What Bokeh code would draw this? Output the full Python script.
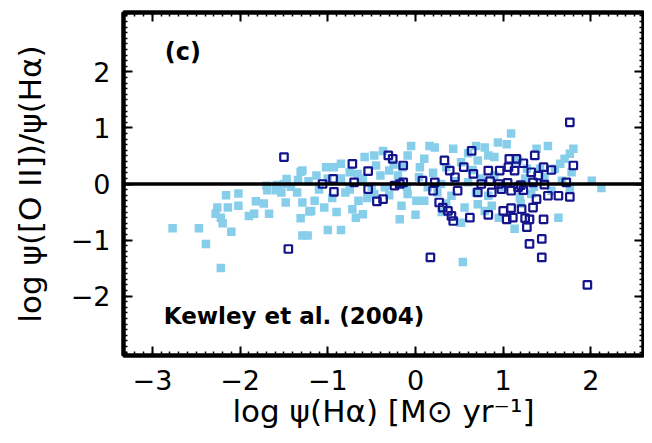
from bokeh.plotting import figure
from bokeh.models import LinearAxis, FixedTicker, Span, Range1d
from bokeh.core.properties import value
from bokeh.embed import file_html
from bokeh.resources import INLINE
import numpy as np

# ---- data ----
light_x = [-2.77, -2.47, -2.39, -2.22, -2.16, -2.02, -2.02, -2.26, -2.14, -2.28, -2.22, -2.20, -2.10,
           -1.82, -1.73, -1.90, -1.84, -1.67, -1.69, -1.59, -1.53, -1.48, -1.47, -1.31, -1.34, -1.29,
           -1.31, -1.21, -1.29, -1.23, -1.70, -1.58, -1.42, -1.22, -1.50, -1.35,
           -1.29, -1.19, -1.00, -0.85, -1.02, -1.13, -0.93, -0.85, -1.04, -0.72, -0.68, -0.60, -0.58,
           -0.47, -0.45, -0.37, -0.05, -0.09, -0.18, -0.16, 0.01, 0.04, -0.75, -0.66, -0.47, -0.35,
           -0.09, -0.30, -1.10, -0.95, -0.85, -0.80, -0.60, -0.50, -0.40, -0.30, -0.20, -0.10, -0.65,
           -0.25, -1.00, -0.75, -1.15, -0.90, -0.55, -0.15,
           1.09, 0.16, 0.22, 0.43, 0.69, 0.79, 0.94, 1.04, 0.10, 0.52, 0.71, 0.83, 0.90, 0.14, 0.10,
           0.41, 0.56, 0.69, 0.83, 0.87, 0.71, 0.52, 0.79, 1.13, 0.54, 0.29, 0.60,
           0.20, 0.35, 0.45, 0.65, 0.75, 0.90, 1.00, 1.25, 1.35, 0.25, 0.05, 0.30, 0.00, 0.95, 1.20,
           0.60, 0.35,
           1.38, 1.51, 1.80, 1.76, 1.70, 1.65, 1.59, 1.78, 2.01, 2.12, 1.63, 1.17, 1.27, 1.42, 1.47,
           1.67, 1.76, 1.19, 1.32, 1.55]
light_y = [-0.79, -0.79, -1.07, -1.50, -0.20, -0.17, -0.39, -0.42, -0.42, -0.53, -0.60, -0.70, -0.85,
           -0.31, -0.35, -0.57, -0.53, -0.53, -0.11, -0.11, -0.15, -0.33, 0.09, 0.22, 0.07, -0.33,
           -0.61, -0.49, -0.92, -0.92, -0.03, -0.02, -0.05, 0.05, 0.00, -0.15,
           0.24, -0.48, -0.82, -0.82, 0.30, 0.15, 0.30, 0.36, -0.42, -0.45, -0.60, -0.54, 0.48,
           0.51, 0.33, 0.59, 0.68, 0.51, -0.63, -0.39, -0.30, 0.12, 0.21, 0.18, -0.18, -0.06,
           -0.18, 0.24, -0.10, -0.25, 0.10, -0.15, 0.10, -0.05, 0.15, -0.20, 0.15, -0.05, -0.30,
           0.35, 0.10, -0.10, -0.30, -0.50, -0.25, 0.30,
           0.90, 0.68, 0.65, 0.63, 0.68, 0.65, 0.74, 0.71, 0.45, 0.39, 0.42, 0.51, 0.48, -0.06, -0.30,
           -0.21, -0.42, -0.15, -0.21, -0.39, -0.36, -0.69, -0.48, -0.80, -1.39, 0.00, 0.03,
           0.20, 0.30, 0.05, 0.25, 0.10, 0.15, -0.05, 0.10, -0.05, -0.15, 0.30, -0.50, -0.55, -0.60, -0.35,
           0.55, -0.35,
           0.63, 0.68, 0.63, 0.54, 0.45, 0.36, 0.27, 0.21, 0.06, -0.07, -0.60, 0.42, 0.27, 0.27, 0.12,
           0.06, -0.09, -0.24, -0.18, -0.12]

dark_x = [-1.50, -1.45, -0.72, -0.94, -1.06, -0.93, -0.70, -0.54, -0.54, -0.44, -0.37, -0.31, -0.26,
          -0.14, -0.24, -0.18, -0.14, 0.08, 0.17,
          0.64, 0.33, 0.39, 0.45, 0.66, 0.83, 0.96, 1.07, 1.15, 1.06, 1.13, 0.22, 0.20, 0.48, 0.71,
          0.87, 0.98, 1.09, 1.17, 0.27, 0.31, 0.37, 0.41, 0.43, 0.62, 0.83, 1.00, 1.09, 1.04, 1.11,
          1.76, 1.23, 1.36, 1.46, 1.55, 1.80, 1.32, 1.40, 1.34, 1.47, 1.72, 1.23, 1.38, 1.51, 1.63,
          1.76, 1.21, 1.34, 1.25, 1.30, 1.46, 1.27, 1.44, 1.30, 1.44, 1.96,
          0.85, 0.95, 1.05, 1.20, 0.75, 0.55]
dark_y = [0.48, -1.16, 0.36, 0.09, 0.00, -0.14, 0.03, 0.23, -0.09, -0.31, -0.27, 0.51, 0.45,
          0.33, -0.03, 0.00, 0.03, 0.06, -1.31,
          0.59, 0.42, 0.24, 0.12, 0.18, 0.24, 0.24, 0.45, 0.45, 0.30, 0.24, 0.03, -0.12, -0.12, -0.15,
          -0.15, -0.09, -0.12, -0.06, -0.33, -0.42, -0.48, -0.57, -0.66, -0.60, -0.55, -0.48, -0.43, -0.63, -0.60,
          1.10, 0.37, 0.51, 0.30, 0.25, 0.33, 0.21, 0.15, 0.03, -0.01, 0.03, -0.11, -0.27, -0.21, -0.21,
          -0.23, -0.45, -0.42, -0.61, -0.63, -0.63, -0.77, -0.98, -1.07, -1.31, -1.80,
          0.05, 0.00, 0.02, -0.02, 0.00, 0.30]

x_ticks = [-3, -2, -1, 0, 1, 2]
y_ticks = [-2, -1, 0, 1, 2]
x_tick_labels = {-3: "\u22123", -2: "\u22122", -1: "\u22121", 0: "0", 1: "1", 2: "2"}
y_tick_labels = {-2: "\u22122", -1: "\u22121", 0: "0", 1: "1", 2: "2"}
x_title = "log \u03c8(H\u03b1) [M\u2299 yr\u207b\u00b9]"
y_title = "log \u03c8([O II])/\u03c8(H\u03b1)"
panel_label = "(c)"
ref_label = "Kewley et al. (2004)"

FONT = "DejaVu Sans"

p = figure(width=644, height=435, output_backend="svg", toolbar_location=None,
           x_range=Range1d(-3.33, 2.6), y_range=Range1d(-3.06, 3.06),
           min_border_left=123, min_border_right=1, min_border_top=12, min_border_bottom=80)
p.xgrid.visible = False
p.ygrid.visible = False
p.outline_line_color = "black"
p.outline_line_width = 4
p.background_fill_color = "white"
p.border_fill_color = "white"

x_minor = [round(v, 2) for v in np.arange(-3.3, 2.61, 0.1)]
y_minor = [round(v, 2) for v in np.arange(-3.0, 3.01, 0.1)]

def style(ax, ticks, minor, labels, show_labels=True):
    ax.ticker = FixedTicker(ticks=ticks, minor_ticks=minor)
    ax.major_tick_in = 9
    ax.major_tick_out = 0
    ax.minor_tick_in = 4
    ax.minor_tick_out = 0
    ax.major_tick_line_width = 2
    ax.minor_tick_line_width = 1.5
    ax.axis_line_width = 4
    ax.axis_line_color = "black"
    if show_labels:
        ax.major_label_overrides = labels
        ax.major_label_text_font = FONT
        ax.major_label_text_font_size = "27px"
        ax.major_label_text_color = "black"
    else:
        ax.major_label_text_font_size = "0px"
        ax.major_label_text_color = None

style(p.xaxis[0], x_ticks, x_minor, x_tick_labels)
style(p.yaxis[0], y_ticks, y_minor, y_tick_labels)
p.xaxis[0].major_label_standoff = 14
p.yaxis[0].major_label_standoff = 13

p.xaxis[0].axis_label = x_title
p.xaxis[0].axis_label_text_font = FONT
p.xaxis[0].axis_label_text_font_size = "31px"
p.xaxis[0].axis_label_text_font_style = "normal"
p.xaxis[0].axis_label_text_color = "black"
p.xaxis[0].axis_label_standoff = 0

p.yaxis[0].axis_label = y_title
p.yaxis[0].axis_label_text_font = FONT
p.yaxis[0].axis_label_text_font_size = "31px"
p.yaxis[0].axis_label_text_font_style = "normal"
p.yaxis[0].axis_label_text_color = "black"
p.yaxis[0].axis_label_standoff = 20

top = LinearAxis()
style(top, x_ticks, x_minor, x_tick_labels, show_labels=False)
p.add_layout(top, "above")
right = LinearAxis()
style(right, y_ticks, y_minor, y_tick_labels, show_labels=False)
p.add_layout(right, "right")

p.scatter(light_x, light_y, marker="square", size=8.5, fill_color="#87ceeb",
          line_color=None)
p.scatter(dark_x, dark_y, marker="square", size=7.5, fill_color=None,
          line_color="#14148c", line_width=2.2)

p.add_layout(Span(location=0, dimension="width", line_color="black", line_width=3.5))

p.text(x=[-2.86], y=[2.36], text=[panel_label], text_font=value(FONT), text_font_size="24px",
       text_font_style="bold", text_baseline="middle", text_align="left", text_color="black")
p.text(x=[-2.87], y=[-2.35], text=[ref_label], text_font=value(FONT), text_font_size="23px",
       text_font_style="bold", text_baseline="middle", text_align="left", text_color="black")

open("out.html", "w").write(file_html(p, INLINE))
